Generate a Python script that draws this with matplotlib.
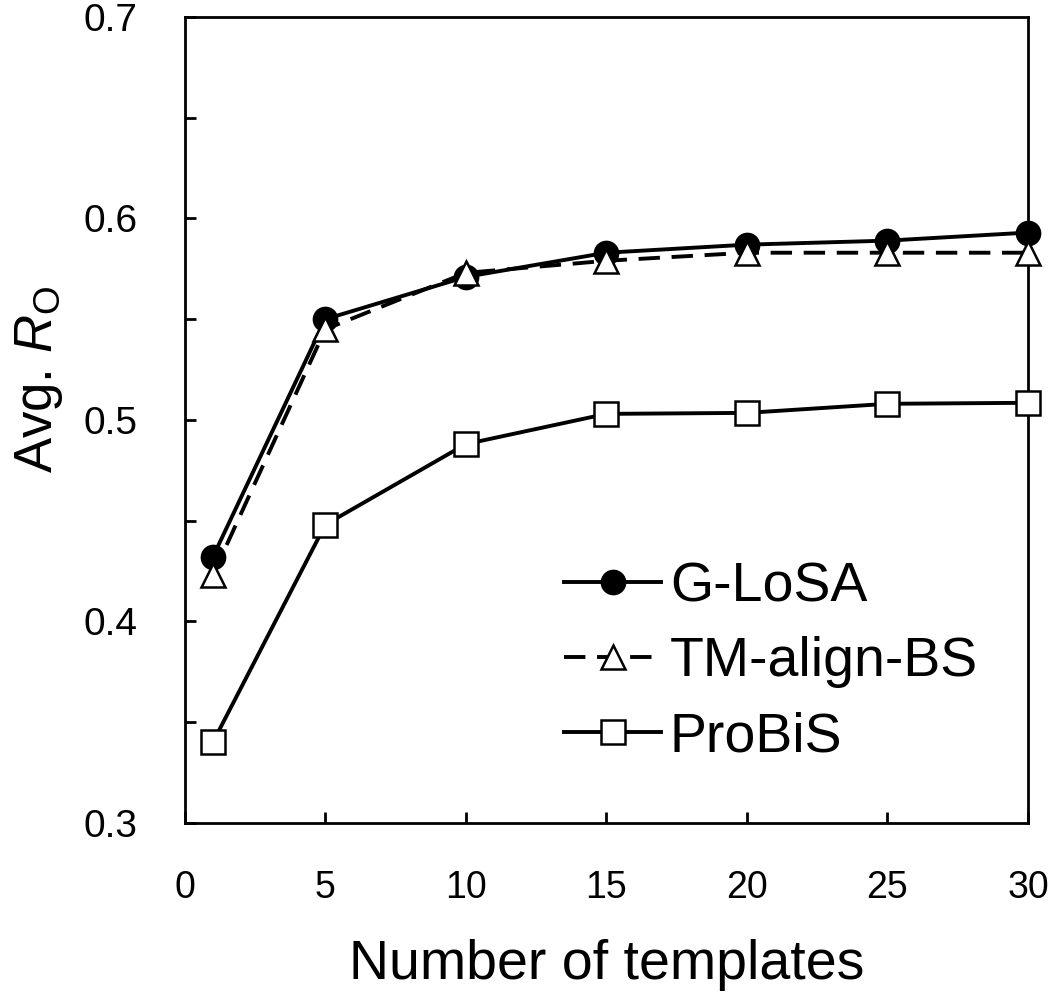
import numpy as np
from matplotlib import pyplot as plt

plt.rcParams['font.family'] = ['Liberation Sans', 'DejaVu Sans']
plt.rcParams['mathtext.fontset'] = 'custom'
plt.rcParams['mathtext.it'] = 'Liberation Sans:italic'
plt.rcParams['mathtext.rm'] = 'Liberation Sans'

# number of templates
n_templates = [1, 5, 10, 15, 20, 25, 30]

# average R_O for each method
glosa = [0.432, 0.550, 0.571, 0.583, 0.587, 0.589, 0.593]
tmalign_bs = [0.423, 0.545, 0.573, 0.579, 0.583, 0.583, 0.583]
probis = [0.340, 0.448, 0.488, 0.503, 0.5035, 0.508, 0.5085]

x_ticks = [0, 5, 10, 15, 20, 25, 30]
y_ticks = [0.3, 0.4, 0.5, 0.6, 0.7]

fig = plt.figure(figsize=(10.5, 10.01), dpi=100)
ax = fig.add_axes([0.176, 0.178, 0.803, 0.805])

lw = 2.8
ms = 17
ax.plot(n_templates, glosa, '-', color='black', lw=lw, marker='o', ms=ms,
        mfc='black', mec='black', mew=1.5, label='G-LoSA', clip_on=False, zorder=3)
ax.plot(n_templates, tmalign_bs, '--', color='black', lw=lw, dashes=(5.5, 3), marker='^', ms=ms,
        mfc='white', mec='black', mew=1.8, label='TM-align-BS', clip_on=False, zorder=4)
ax.plot(n_templates, probis, '-', color='black', lw=lw, marker='s', ms=ms,
        mfc='white', mec='black', mew=1.8, label='ProBiS', clip_on=False, zorder=3)

ax.set_xlim(0, 30)
ax.set_ylim(0.3, 0.7)
ax.set_xticks(x_ticks)
ax.set_yticks(y_ticks)
ax.set_yticks(np.arange(0.35, 0.7, 0.1), minor=True)
ax.set_yticklabels(['%.1f' % v for v in y_ticks])

for s in ax.spines.values():
    s.set_linewidth(2)
ax.tick_params(which='both', direction='in', length=8, width=2, top=False, right=False)
ax.tick_params(axis='y', which='major', labelsize=28, pad=34)
ax.tick_params(axis='x', which='major', labelsize=27, pad=34)

ax.set_xlabel('Number of templates', fontsize=40, labelpad=24)
ax.set_ylabel(r'Avg. $\mathit{R}_{\mathrm{O}}$', fontsize=38)
ax.yaxis.set_label_coords(-0.142, 0.55)

leg = ax.legend(loc='center left', bbox_to_anchor=(0.45, 0.199), frameon=False,
                fontsize=40, handlelength=1.75, handletextpad=0.15, labelspacing=0.42,
                borderpad=0, borderaxespad=0)

fig.savefig('out.png', dpi=100)
